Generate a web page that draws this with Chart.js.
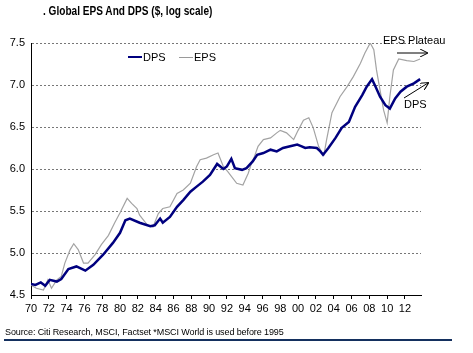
<!DOCTYPE html>
<html>
<head>
  <meta charset="utf-8">
  <title>Global EPS And DPS</title>
  <script src="https://cdn.jsdelivr.net/npm/chart.js"></script>
  <style>
    html, body {
      margin: 0;
      padding: 0;
      background: #fff;
      font-family: 'Liberation Sans', Arial, sans-serif;
    }

    .wrap {
      position: relative;
      width: 473px;
      height: 353px;
      overflow: hidden;
    }

    #epsChart { position: absolute; left: 0; top: 0; }

    .title {
      position: absolute;
      left: 43px;
      top: 4px;
      font-size: 12px;
      font-weight: bold;
      color: #000;
      white-space: nowrap;
      transform: scaleX(0.84);
      transform-origin: left top;
    }

    .legend {
      position: absolute;
      top: 51px;
      font-size: 11px;
      color: #000;
      white-space: nowrap;
    }
    .legend i {
      display: inline-block;
      vertical-align: middle;
      width: 14px;
      margin-right: 1px;
      margin-top: -2px;
    }

    .note {
      position: absolute;
      font-size: 11px;
      color: #000;
      white-space: nowrap;
    }

    .source {
      position: absolute;
      left: 5px;
      top: 327px;
      font-size: 9px;
      color: #000;
      white-space: nowrap;
      letter-spacing: -0.1px;
    }
    .rule {
      position: absolute;
      left: 4px;
      top: 339px;
      width: 448px;
      height: 2px;
      background: #14305e;
    }

    svg { position: absolute; left: 0; top: 0; }
  </style>
</head>
<body>

<div class="wrap">
  <canvas id="epsChart" width="473" height="353"></canvas>

  <div class="title">. Global EPS And DPS ($, log scale)</div>

  <div class="legend" style="left:128px"><i style="border-top:2.5px solid #00007f"></i>DPS</div>
  <div class="legend" style="left:179px"><i style="border-top:1px solid #9a9a9a"></i>EPS</div>

  <div class="note" style="left:383px; top:34px">EPS Plateau</div>
  <div class="note" style="left:404px; top:98px">DPS</div>

  <svg width="473" height="353">
    <defs>
      <marker id="head" markerWidth="8" markerHeight="8" refX="7" refY="4" orient="auto" markerUnits="userSpaceOnUse">
        <path d="M0,0 L8,4 L0,8" fill="none" stroke="#000" stroke-width="1"/>
      </marker>
    </defs>
    <line x1="397" y1="53" x2="427" y2="53" stroke="#000" stroke-width="1" marker-end="url(#head)"/>
    <line x1="404" y1="98" x2="428" y2="83" stroke="#000" stroke-width="1" marker-end="url(#head)"/>
  </svg>

  <div class="source">Source: Citi Research, MSCI, Factset *MSCI World is used before 1995</div>
  <div class="rule"></div>
</div>

<script>
  // log values
  const dpsYears = [
    1970.0, 1970.5, 1971.1, 1971.6, 1972.1, 1972.9, 1973.4, 1974.2, 1975.1, 1976.1,
    1977.0, 1978.1, 1979.2, 1980.0, 1980.6, 1981.1, 1982.2, 1983.4, 1983.9, 1984.5,
    1984.8, 1985.6, 1986.4, 1987.1, 1987.9, 1988.6, 1989.3, 1990.1, 1990.9, 1991.6,
    1992.0, 1992.5, 1992.9, 1993.7, 1994.2, 1994.9, 1995.4, 1996.1, 1996.9, 1997.6,
    1998.3, 1999.1, 1999.9, 2000.4, 2000.8, 2001.3, 2002.1, 2002.5, 2002.8, 2003.4,
    2004.2, 2004.9, 2005.7, 2006.4, 2007.2, 2007.7, 2008.3, 2008.7, 2009.2, 2009.8,
    2010.3, 2010.9, 2011.5, 2012.2, 2013.0, 2013.7
  ];
  const dpsValues = [
    4.63, 4.62, 4.65, 4.61, 4.68, 4.66, 4.69, 4.81, 4.84, 4.79,
    4.86, 4.98, 5.12, 5.24, 5.39, 5.41, 5.36, 5.32, 5.33, 5.41,
    5.36, 5.43, 5.55, 5.63, 5.73, 5.79, 5.85, 5.93, 6.06, 6.00,
    6.03, 6.12, 6.01, 5.99, 6.01, 6.09, 6.17, 6.19, 6.23, 6.21,
    6.25, 6.27, 6.29, 6.27, 6.25, 6.26, 6.25, 6.21, 6.17, 6.25,
    6.37, 6.49, 6.56, 6.74, 6.88, 6.98, 7.07, 6.98, 6.86, 6.76,
    6.72, 6.84, 6.92, 6.98, 7.02, 7.07
  ];

  const epsYears = [
    1970.0, 1970.6, 1971.4, 1971.9, 1972.3, 1972.9, 1973.4, 1973.8, 1974.4, 1974.8,
    1975.3, 1975.9, 1976.4, 1977.2, 1977.9, 1978.7, 1979.4, 1980.0, 1980.8, 1981.3,
    1981.9, 1982.2, 1983.1, 1983.7, 1984.3, 1984.8, 1985.6, 1986.4, 1987.1, 1987.9,
    1988.6, 1989.0, 1989.7, 1990.5, 1991.0, 1991.6, 1992.1, 1993.1, 1993.8, 1994.4,
    1994.8, 1995.1, 1995.5, 1996.1, 1996.9, 1997.6, 1998.0, 1998.7, 1999.5, 2000.0,
    2000.6, 2001.2, 2001.7, 2002.3, 2002.7, 2002.9, 2003.2, 2003.8, 2004.7, 2005.5,
    2006.2, 2007.0, 2007.5, 2008.1, 2008.5, 2008.8, 2009.2, 2009.6, 2010.0, 2010.3,
    2010.7, 2011.3, 2012.2, 2013.0, 2013.7
  ];
  const epsValues = [
    4.62, 4.58, 4.56, 4.68, 4.58, 4.68, 4.72, 4.88, 5.04, 5.11,
    5.04, 4.88, 4.88, 4.98, 5.10, 5.21, 5.36, 5.48, 5.65, 5.59,
    5.53, 5.45, 5.33, 5.31, 5.47, 5.53, 5.55, 5.71, 5.75, 5.83,
    6.03, 6.11, 6.13, 6.17, 6.19, 6.03, 5.97, 5.83, 5.81, 5.95,
    6.08, 6.15, 6.27, 6.35, 6.37, 6.43, 6.46, 6.43, 6.35, 6.46,
    6.58, 6.61, 6.49, 6.27, 6.19, 6.17, 6.35, 6.67, 6.86, 6.98,
    7.10, 7.26, 7.38, 7.50, 7.42, 7.18, 6.94, 6.70, 6.55, 6.86,
    7.18, 7.31, 7.29, 7.28, 7.31
  ];

  const xTickYears = [1970, 1972, 1974, 1976, 1978, 1980, 1982, 1984, 1986, 1988, 1990,
    1992, 1994, 1996, 1998, 2000, 2002, 2004, 2006, 2008, 2010, 2012];
  const yTickValues = [4.5, 5.0, 5.5, 6.0, 6.5, 7.0, 7.5];

  const toPoints = (xs, ys) => xs.map((x, i) => ({ x: x, y: ys[i] }));

  const ctx = document.getElementById('epsChart').getContext('2d');
  new Chart(ctx, {
    type: 'line',
    data: {
      datasets: [
        {
          label: 'DPS',
          data: toPoints(dpsYears, dpsValues),
          borderColor: '#00007f',
          borderWidth: 2.5,
          pointRadius: 0,
          fill: false
        },
        {
          label: 'EPS',
          data: toPoints(epsYears, epsValues),
          borderColor: '#a3a3a3',
          borderWidth: 1.2,
          pointRadius: 0,
          fill: false
        }
      ]
    },
    options: {
      responsive: false,
      animation: false,
      layout: { padding: { left: 0, right: 52, top: 43, bottom: 38 } },
      plugins: {
        legend: { display: false },
        tooltip: { enabled: false }
      },
      scales: {
        x: {
          type: 'linear',
          min: 1970,
          max: 2013.8,
          afterFit: s => { s.height = 20; },
          afterBuildTicks: s => { s.ticks = xTickYears.map(v => ({ value: v })); },
          grid: {
            drawOnChartArea: false,
            color: '#000',
            tickLength: 4
          },
          border: { color: '#000', width: 1 },
          ticks: {
            padding: 3,
            maxRotation: 0,
            autoSkip: false,
            color: '#000',
            font: { family: "'Liberation Sans', Arial", size: 11 },
            callback: v => String(v % 100).padStart(2, '0')
          }
        },
        y: {
          min: 4.5,
          max: 7.5,
          afterFit: s => { s.width = 31; },
          afterBuildTicks: s => { s.ticks = yTickValues.map(v => ({ value: v })); },
          grid: {
            color: '#777',
            lineWidth: 1,
            drawTicks: false
          },
          border: { color: '#000', width: 1, dash: [2, 2] },
          ticks: {
            padding: 6,
            color: '#000',
            font: { family: "'Liberation Sans', Arial", size: 11 },
            callback: v => v.toFixed(1)
          }
        }
      }
    }
  });
</script>

</body>
</html>
